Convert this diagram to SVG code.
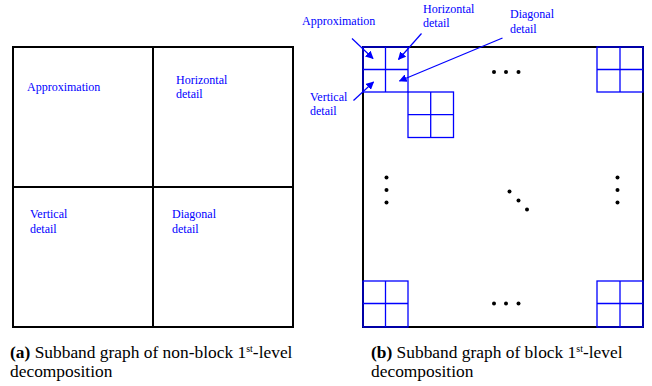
<svg xmlns="http://www.w3.org/2000/svg" width="652" height="386" viewBox="0 0 652 386">
<defs>
<style>
.frame{fill:none;stroke:#000;stroke-width:2}
.blk{fill:none;stroke:#0000ff;stroke-width:1.3}
.lbl{font-family:'Liberation Serif','Times New Roman',Tinos,'DejaVu Serif',serif;font-size:12px;fill:#0000ff}
.cap{font-family:'Liberation Serif','Times New Roman',Tinos,'DejaVu Serif',serif;font-size:17.4px;fill:#000}
.arr{stroke:#0000ff;stroke-width:1.2;fill:none;marker-end:url(#ah)}
.dot{fill:#000}
</style>
<marker id="ah" viewBox="0 0 10 10" refX="9" refY="5" markerWidth="8" markerHeight="8" markerUnits="userSpaceOnUse" orient="auto">
<path d="M0,0 L10,5 L0,10 z" fill="#0000ff"/>
</marker>
</defs>
<rect width="652" height="386" fill="#fff"/>

<g id="left-figure">
<rect class="frame" x="13" y="47" width="280" height="280"/>
<line class="frame" x1="153" y1="47" x2="153" y2="327"/>
<line class="frame" x1="13" y1="187" x2="293" y2="187"/>
<text class="lbl" x="27" y="91">Approximation</text>
<text class="lbl" x="176" y="84">Horizontal</text>
<text class="lbl" x="176" y="98">detail</text>
<text class="lbl" x="30" y="218">Vertical</text>
<text class="lbl" x="30" y="233">detail</text>
<text class="lbl" x="172" y="218">Diagonal</text>
<text class="lbl" x="172" y="233">detail</text>
</g>

<g id="right-figure">
<rect class="frame" x="363" y="47" width="280" height="280"/>
<g id="block-tl">
<rect class="blk" x="363" y="47" width="45" height="45"/>
<line class="blk" x1="385.5" y1="47" x2="385.5" y2="92"/>
<line class="blk" x1="363" y1="69.5" x2="408" y2="69.5"/>
</g>
<g id="block-2">
<rect class="blk" x="408" y="92" width="45.5" height="45.5"/>
<line class="blk" x1="430.7" y1="92" x2="430.7" y2="137.5"/>
<line class="blk" x1="408" y1="114.7" x2="453.5" y2="114.7"/>
</g>
<g id="block-tr">
<rect class="blk" x="597" y="47" width="46" height="45"/>
<line class="blk" x1="620" y1="47" x2="620" y2="92"/>
<line class="blk" x1="597" y1="69.5" x2="643" y2="69.5"/>
</g>
<g id="block-bl">
<rect class="blk" x="363" y="281" width="45" height="46"/>
<line class="blk" x1="385.5" y1="281" x2="385.5" y2="327"/>
<line class="blk" x1="363" y1="303.5" x2="408" y2="303.5"/>
</g>
<g id="block-br">
<rect class="blk" x="597" y="281" width="46" height="46"/>
<line class="blk" x1="620" y1="281" x2="620" y2="327"/>
<line class="blk" x1="597" y1="303.5" x2="643" y2="303.5"/>
</g>
<g id="dots">
<circle class="dot" cx="494" cy="72" r="2"/>
<circle class="dot" cx="506" cy="72" r="2"/>
<circle class="dot" cx="518.5" cy="72" r="2"/>
<circle class="dot" cx="494" cy="303.5" r="2"/>
<circle class="dot" cx="506" cy="303.5" r="2"/>
<circle class="dot" cx="518.5" cy="303.5" r="2"/>
<circle class="dot" cx="386.5" cy="177.5" r="2"/>
<circle class="dot" cx="386.5" cy="190" r="2"/>
<circle class="dot" cx="386.5" cy="202.5" r="2"/>
<circle class="dot" cx="617.5" cy="177.5" r="2"/>
<circle class="dot" cx="617.5" cy="190" r="2"/>
<circle class="dot" cx="617.5" cy="202.5" r="2"/>
<circle class="dot" cx="509.5" cy="191.5" r="2"/>
<circle class="dot" cx="518.5" cy="200.5" r="2"/>
<circle class="dot" cx="527" cy="209.5" r="2"/>
</g>
<text class="lbl" x="302" y="25">Approximation</text>
<text class="lbl" x="423" y="13">Horizontal</text>
<text class="lbl" x="423" y="27">detail</text>
<text class="lbl" x="510" y="18">Diagonal</text>
<text class="lbl" x="510" y="33">detail</text>
<text class="lbl" x="310" y="101">Vertical</text>
<text class="lbl" x="310" y="115">detail</text>
</g>

<g id="connectors">
<line class="arr" x1="352" y1="38.5" x2="373" y2="58.5"/>
<line class="arr" x1="421.5" y1="33.5" x2="398.5" y2="59.5"/>
<line class="arr" x1="502.5" y1="38" x2="399.5" y2="81"/>
<line class="arr" x1="353.5" y1="100.5" x2="373.5" y2="82"/>
</g>

<g id="captions">
<text class="cap" x="10" y="358"><tspan font-weight="bold">(a)</tspan> Subband graph of non-block 1<tspan font-size="10" dy="-6">st</tspan><tspan dy="6">-level</tspan></text>
<text class="cap" x="10" y="377">decomposition</text>
<text class="cap" x="371" y="358"><tspan font-weight="bold">(b)</tspan> Subband graph of block 1<tspan font-size="10" dy="-6">st</tspan><tspan dy="6">-level</tspan></text>
<text class="cap" x="371" y="377">decomposition</text>
</g>
</svg>
